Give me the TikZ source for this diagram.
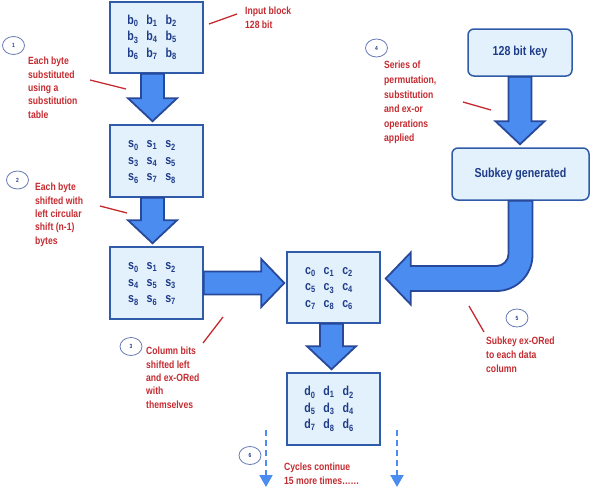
\documentclass[tikz,border=0pt]{standalone}
\usepackage{fontspec}
\setmainfont{Liberation Sans}[FakeStretch=0.82]
\usetikzlibrary{calc,shapes.geometric,arrows.meta}

\definecolor{boxfill}{HTML}{E2F1FB}
\definecolor{boxline}{HTML}{2F5BA8}
\definecolor{arrowfill}{HTML}{4A8CF0}
\definecolor{arrowline}{HTML}{28489A}
\definecolor{notered}{HTML}{C42B30}
\definecolor{boxtext}{HTML}{1F3C8A}
\definecolor{stepring}{HTML}{6478B4}

\tikzset{
  databox/.style={draw=boxline, fill=boxfill, line width=1.5pt, minimum width=93pt,
    minimum height=72pt, inner sep=0pt, text=boxtext,
    font=\fontsize{13}{16.5}\selectfont\bfseries},
  keybox/.style={databox, rounded corners=6pt, font=\fontsize{13}{15}\selectfont\bfseries},
  fatarrow/.style={fill=arrowfill, draw=arrowline, line width=1.8pt, line join=miter},
  note/.style={text=notered, font=\fontsize{10.5}{13.3}\selectfont\bfseries,
    align=left, anchor=north west, inner sep=0pt},
  leader/.style={draw=notered, line width=1.3pt},
  stepno/.style={ellipse, draw=stepring, line width=0.8pt, minimum width=22pt,
    minimum height=18pt, inner sep=0pt, text=boxtext,
    font=\fontsize{6}{6}\selectfont\bfseries},
  repeatline/.style={draw=arrowfill, line width=2pt, dash pattern=on 6pt off 4pt,
    -{Triangle[width=13pt,length=12pt]}}
}

\newcommand{\ix}[1]{\textsubscript{#1}}
\newcommand{\grid}[9]{%
  \begin{tabular}{@{}l@{\hspace{8pt}}l@{\hspace{8pt}}l@{}}
  #1 & #2 & #3\\ #4 & #5 & #6\\ #7 & #8 & #9
  \end{tabular}\kern9pt}

% fat block arrows between two nodes
\newcommand{\downfat}[2]{%
  \draw[fatarrow] let \p1=(#1), \p2=(#2) in
    (\x1-11.5pt,\y1) -- (\x1-11.5pt,\y2+26pt) -- (\x1-24.5pt,\y2+26pt) -- (\x1,\y2+3pt)
    -- (\x1+24.5pt,\y2+26pt) -- (\x1+11.5pt,\y2+26pt) -- (\x1+11.5pt,\y1) -- cycle;}
\newcommand{\rightfat}[2]{%
  \draw[fatarrow] let \p1=(#1), \p2=(#2) in
    (\x1,\y1+11.5pt) -- (\x2-25pt,\y1+11.5pt) -- (\x2-25pt,\y1+24pt) -- (\x2-2pt,\y1)
    -- (\x2-25pt,\y1-24pt) -- (\x2-25pt,\y1-11.5pt) -- (\x1,\y1-11.5pt) -- cycle;}

\begin{document}
\begin{tikzpicture}[x=1pt,y=-1pt]
    \useasboundingbox (0,0) rectangle (592,488);

    % Data blocks
    \node[databox, minimum height=71pt] (boxb) at (156.5,37.5)
        {\grid{b\ix0}{b\ix1}{b\ix2}{b\ix3}{b\ix4}{b\ix5}{b\ix6}{b\ix7}{b\ix8}};
    \node[databox] (boxs) at (156.5,161)
        {\grid{s\ix0}{s\ix1}{s\ix2}{s\ix3}{s\ix4}{s\ix5}{s\ix6}{s\ix7}{s\ix8}};
    \node[databox] (boxr) at (156.5,283)
        {\grid{s\ix0}{s\ix1}{s\ix2}{s\ix4}{s\ix5}{s\ix3}{s\ix8}{s\ix6}{s\ix7}};
    \node[databox, minimum height=71pt] (boxc) at (333.5,287.5)
        {\grid{c\ix0}{c\ix1}{c\ix2}{c\ix5}{c\ix3}{c\ix4}{c\ix7}{c\ix8}{c\ix6}};
    \node[databox] (boxd) at (333.5,409)
        {\grid{d\ix0}{d\ix1}{d\ix2}{d\ix5}{d\ix3}{d\ix4}{d\ix7}{d\ix8}{d\ix6}};

    % Key blocks
    \node[keybox, minimum width=104pt, minimum height=47pt] (key) at (520,52.5) {128 bit key};
    \node[keybox, minimum width=137pt, minimum height=52pt] (subkey) at (520.5,174) {Subkey generated};

    % Block arrows
    \downfat{$(boxb.south)+(-4,0)$}{boxs.north}
    \downfat{$(boxs.south)+(-4,0)$}{boxr.north}
    \rightfat{boxr.east}{boxc.west}
    \downfat{$(boxc.south)+(-2,0)$}{boxd.north}
    \downfat{key.south}{subkey.north}
    \draw[fatarrow] let \p1=(subkey.south), \p2=(boxc.east), \p3=(\x1,\y2+9pt) in
        (\x1-12pt,\y1) -- (\x1-12pt,\y3+24.5pt)
        .. controls (\x1-12pt,\y3+17.9pt) and (\x1-17.4pt,\y3+12.5pt) .. (\x1-24pt,\y3+12.5pt)
        -- (\x2+30pt,\y3+12.5pt) -- (\x2+30pt,\y3+26pt) -- (\x2+5pt,\y3)
        -- (\x2+30pt,\y3-26pt) -- (\x2+30pt,\y3-12.5pt) -- (\x1-24pt,\y3-12.5pt)
        .. controls (\x1-4.1pt,\y3-12.5pt) and (\x1+12pt,\y3+3.6pt) .. (\x1+12pt,\y3+23.5pt)
        -- (\x1+12pt,\y1) -- cycle;

    % Step numbers
    \node[stepno] (n1) at (13.5,45.5) {1};
    \node[stepno] (n2) at (17.5,180) {2};
    \node[stepno] (n3) at (131,346.5) {3};
    \node[stepno] (n4) at (376.5,48) {4};
    \node[stepno] (n5) at (517,318) {5};
    \node[stepno] (n6) at (250,455.5) {6};

    % Notes
    \node[note] (tin) at (245,7) {Input block\\128 bit};
    \node[note] (t1) at (28,57) {Each byte\\substituted\\using a\\substitution\\table};
    \node[note] (t2) at (35,183) {Each byte\\shifted with\\left circular\\shift (n-1)\\bytes};
    \node[note] (t3) at (146,347) {Column bits\\shifted left\\and ex-ORed\\with\\themselves};
    \node[note, font=\fontsize{10.5}{14.6}\selectfont\bfseries] (t4) at (384,61)
        {Series of\\permutation,\\substitution\\and ex-or\\operations\\applied};
    \node[note, font=\fontsize{10.5}{14}\selectfont\bfseries] (t5) at (486,337)
        {Subkey ex-ORed\\to each data\\column};
    \node[note, font=\fontsize{10.5}{14}\selectfont\bfseries] (t6) at (284,463)
        {Cycles continue\\15 more times……};

    % Leader lines
    \coordinate (lin) at (209,24);  \coordinate (lin') at (237,14);
    \coordinate (l1) at (90,80);    \coordinate (l1') at (126,89);
    \coordinate (l2) at (100,206);  \coordinate (l2') at (127,213);
    \coordinate (l3) at (203,343);  \coordinate (l3') at (223,317);
    \coordinate (l4) at (463,102);  \coordinate (l4') at (491,110);
    \coordinate (l5) at (469,306);  \coordinate (l5') at (484,332);
    \draw[leader] (lin) -- (lin');
    \draw[leader] (l1) -- (l1');
    \draw[leader] (l2) -- (l2');
    \draw[leader] (l3) -- (l3');
    \draw[leader] (l4) -- (l4');
    \draw[leader] (l5) -- (l5');

    % Repeat arrows
    \coordinate (ra) at (266,430);  \coordinate (ra') at (266,487);
    \coordinate (rb) at (397,430);  \coordinate (rb') at (397,487);
    \draw[repeatline] (ra) -- (ra');
    \draw[repeatline] (rb) -- (rb');
\end{tikzpicture}
\end{document}
